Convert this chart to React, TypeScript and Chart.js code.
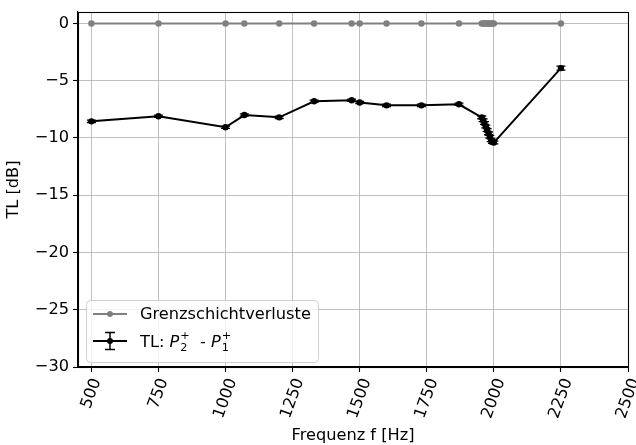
import React, { useEffect, useRef } from "react";
import { Chart, registerables } from "chart.js";
Chart.register(...registerables);

// ---- data ----
const freqs = [500, 750, 1000, 1070, 1200, 1330, 1470, 1500, 1600, 1730, 1870, 1955, 1960, 1965, 1970, 1975, 1980, 1985, 1990, 1995, 2000, 2250];
const tlValues = [-8.55, -8.1, -9.07, -8.0, -8.2, -6.8, -6.7, -6.9, -7.15, -7.15, -7.06, -8.2, -8.45, -8.7, -9.0, -9.3, -9.6, -9.9, -10.2, -10.35, -10.4, -3.9];
const tlErrors = [0.1, 0.1, 0.1, 0.1, 0.1, 0.1, 0.1, 0.1, 0.1, 0.1, 0.1, 0.12, 0.12, 0.12, 0.12, 0.12, 0.12, 0.12, 0.12, 0.12, 0.12, 0.18];
const boundaryLoss = [0, 0, 0, 0, 0, 0, 0, 0, 0, 0, 0, 0, 0, 0, 0, 0, 0, 0, 0, 0, 0, 0];
const xTicks = [500, 750, 1000, 1250, 1500, 1750, 2000, 2250, 2500];
const yTicks = [-30, -25, -20, -15, -10, -5, 0];
const seriesNames = ["Grenzschichtverluste", "TL"];
const xTitle = "Frequenz f [Hz]";
const yTitle = "TL [dB]";

const FONT = '"DejaVu Sans", sans-serif';
const FS = 16.2;
const GRAY = "#808080";

const minus = (v: number) => String(v).replace("-", "\u2212");

const customPlugin = {
  id: "custom",
  afterDatasetsDraw(chart: any) {
    const { ctx, scales } = chart;
    const xs = scales.x, ys = scales.y;
    ctx.save();
    ctx.strokeStyle = "#000";
    ctx.lineWidth = 1.3;
    for (let i = 0; i < freqs.length; i++) {
      const px = xs.getPixelForValue(freqs[i]);
      const y1 = ys.getPixelForValue(tlValues[i] + tlErrors[i]);
      const y2 = ys.getPixelForValue(tlValues[i] - tlErrors[i]);
      ctx.beginPath();
      ctx.moveTo(px, y1); ctx.lineTo(px, y2);
      ctx.moveTo(px - 4.5, y1); ctx.lineTo(px + 4.5, y1);
      ctx.moveTo(px - 4.5, y2); ctx.lineTo(px + 4.5, y2);
      ctx.stroke();
    }
    ctx.restore();
  },
  afterDraw(chart: any) {
    const { ctx, chartArea: a, scales } = chart;
    const xs = scales.x;
    ctx.save();
    // spines
    ctx.strokeStyle = "#000";
    ctx.lineWidth = 1.1;
    ctx.strokeRect(Math.round(a.left) + 0.5, Math.round(a.top) + 0.5, Math.round(a.right - a.left), Math.round(a.bottom - a.top));

    ctx.fillStyle = "#000";
    ctx.font = `${FS}px ${FONT}`;
    // x tick labels, rotated 70deg, bbox centred on tick
    const ang = (70 * Math.PI) / 180;
    const h = FS * 1.1;
    for (const t of xTicks) {
      const label = String(t);
      const w = ctx.measureText(label).width;
      const bh = w * Math.sin(ang) + h * Math.cos(ang);
      const cx = xs.getPixelForValue(t);
      const cy = a.bottom + 9 + bh / 2;
      ctx.save();
      ctx.translate(cx, cy);
      ctx.rotate(-ang);
      ctx.textAlign = "center";
      ctx.textBaseline = "middle";
      ctx.fillText(label, 0, 0);
      ctx.restore();
    }
    // axis titles
    ctx.textAlign = "center";
    ctx.textBaseline = "middle";
    ctx.fillText(xTitle, (a.left + a.right) / 2, 436);
    ctx.save();
    ctx.translate(14, (a.top + a.bottom) / 2);
    ctx.rotate(-Math.PI / 2);
    ctx.fillText(yTitle, 0, 0);
    ctx.restore();

    // legend
    const lx = 86, ly = 300, lw = 232, lh = 62;
    ctx.beginPath();
    ctx.roundRect(lx + 0.5, ly + 0.5, lw, lh, 4);
    ctx.fillStyle = "rgba(255,255,255,0.8)";
    ctx.fill();
    ctx.strokeStyle = "#d0d0d0";
    ctx.lineWidth = 1;
    ctx.stroke();

    // entry 1
    const r1 = 314, r2 = 341;
    ctx.strokeStyle = GRAY;
    ctx.lineWidth = 2;
    ctx.beginPath(); ctx.moveTo(93, r1); ctx.lineTo(127, r1); ctx.stroke();
    ctx.fillStyle = GRAY;
    ctx.beginPath(); ctx.arc(110, r1, 3, 0, Math.PI * 2); ctx.fill();
    ctx.fillStyle = "#000";
    ctx.textAlign = "left";
    ctx.textBaseline = "middle";
    ctx.font = `${FS}px ${FONT}`;
    ctx.fillText(seriesNames[0], 140, r1 + 1);

    // entry 2
    ctx.strokeStyle = "#000";
    ctx.lineWidth = 2;
    ctx.beginPath(); ctx.moveTo(93, r2); ctx.lineTo(127, r2); ctx.stroke();
    ctx.lineWidth = 1.5;
    ctx.beginPath();
    ctx.moveTo(110, r2 - 8.5); ctx.lineTo(110, r2 + 8.5);
    ctx.moveTo(105, r2 - 8.5); ctx.lineTo(115, r2 - 8.5);
    ctx.moveTo(105, r2 + 8.5); ctx.lineTo(115, r2 + 8.5);
    ctx.stroke();
    ctx.beginPath(); ctx.arc(110, r2, 3, 0, Math.PI * 2); ctx.fill();

    let x = 140;
    const base = r2 + 6;
    ctx.textBaseline = "alphabetic";
    const draw = (s: string, font: string, dy: number) => {
      ctx.font = font;
      ctx.fillText(s, x, base + dy);
      return ctx.measureText(s).width;
    };
    const reg = `${FS}px ${FONT}`;
    const ital = `italic ${FS}px ${FONT}`;
    const small = `${FS * 0.7}px ${FONT}`;
    x += draw(seriesNames[1] + ": ", reg, 0);
    x += draw("P", ital, 0) + 1;
    let wsub = draw("2", small, 4);
    let wsup = draw("+", small, -8);
    x += Math.max(wsub, wsup);
    x += draw("  - ", reg, 0);
    x += draw("P", ital, 0) + 1;
    wsub = draw("1", small, 4);
    wsup = draw("+", small, -8);
    ctx.restore();
  },
};

export default function App() {
  const ref = useRef<HTMLCanvasElement>(null);
  useEffect(() => {
    document.body.style.margin = "0";
    const canvas = ref.current!;
    const chart = new Chart(canvas, {
      type: "line",
      data: {
        datasets: [
          {
            label: seriesNames[0],
            data: freqs.map((f, i) => ({ x: f, y: boundaryLoss[i] })),
            borderColor: GRAY,
            backgroundColor: GRAY,
            borderWidth: 2,
            pointRadius: 3.2,
            pointBorderWidth: 0,
            pointHoverRadius: 3.2,
          },
          {
            label: seriesNames[1],
            data: freqs.map((f, i) => ({ x: f, y: tlValues[i] })),
            borderColor: "#000",
            backgroundColor: "#000",
            borderWidth: 2,
            pointRadius: 3.2,
            pointBorderWidth: 0,
            pointHoverRadius: 3.2,
          },
        ],
      },
      options: {
        animation: false,
        responsive: false,
        devicePixelRatio: 1,
        layout: { padding: { top: 12, right: 8, left: 0, bottom: 0 } },
        plugins: { legend: { display: false }, tooltip: { enabled: false } },
        scales: {
          x: {
            type: "linear",
            min: 450,
            max: 2500,
            afterBuildTicks: (s: any) => { s.ticks = xTicks.map((v) => ({ value: v })); },
            afterFit: (s: any) => { s.height = 78; s.paddingLeft = 0; s.paddingRight = 0; },
            ticks: { display: false },
            grid: { color: "#b0b0b0", lineWidth: 0.8, tickLength: 5, tickColor: "#000", tickWidth: 1.1 },
            border: { color: "#000", width: 1.1 },
          },
          y: {
            type: "linear",
            min: -30,
            max: 1,
            afterBuildTicks: (s: any) => { s.ticks = yTicks.map((v) => ({ value: v })); },
            afterFit: (s: any) => { s.width = 78; s.paddingTop = 0; s.paddingBottom = 0; },
            ticks: {
              color: "#000",
              padding: 4,
              font: { family: FONT, size: FS },
              callback: (v: any) => minus(Number(v)),
            },
            grid: { color: "#b0b0b0", lineWidth: 0.8, tickLength: 5, tickColor: "#000", tickWidth: 1.1 },
            border: { color: "#000", width: 1.1 },
          },
        },
      },
      plugins: [customPlugin],
    } as any);
    return () => chart.destroy();
  }, []);
  return (
    <div style={{ width: 636, height: 445 }}>
      <canvas ref={ref} width={636} height={445} style={{ display: "block" }} />
    </div>
  );
}
